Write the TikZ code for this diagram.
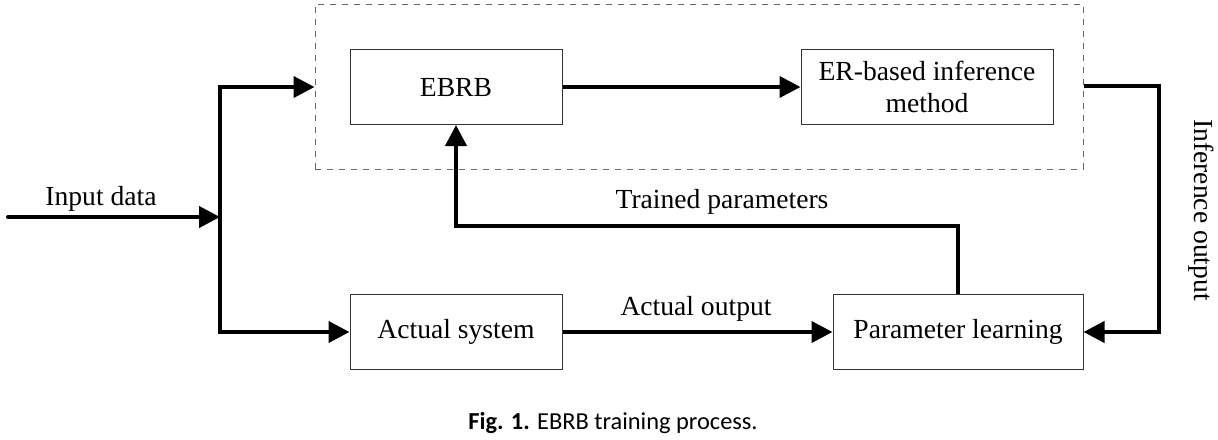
\documentclass[tikz,border=0pt]{standalone}
\usepackage{fontspec}
\setmainfont{Liberation Serif}
\newfontfamily\capfont{Carlito}
\usetikzlibrary{arrows.meta,positioning,calc}

\begin{document}
\begin{tikzpicture}[x=0.5pt,y=-0.5pt,>={Triangle[length=10.5pt,width=10.5pt]},
  blk/.style={draw=black!80,line width=0.5pt,minimum width=106pt,minimum height=37.5pt,align=center,font=\fontsize{13.8}{16}\selectfont},
  flow/.style={line width=2pt,->},
  lbl/.style={font=\fontsize{13.8}{16}\selectfont}]
\useasboundingbox (0,0) rectangle (1218,439);
\node[blk,text depth=0pt] (ebrb) at (456,87) {EBRB};
\node[blk,minimum width=126pt] (er) at (927,87) {ER-based inference\\method};
\node[blk] (act) at (456,332) {Actual system};
\node[blk,minimum width=125pt] (pl) at (958,332) {Parameter learning};
\node[draw=black!60,dashed,line width=0.5pt,minimum width=384pt,minimum height=82.5pt] (sys) at (699,86.5) {};
\coordinate (in) at (8,217);
\coordinate (split) at (220,217);
\coordinate (io) at (1159,86);
\coordinate (tp) at (700,226);
\draw[flow,line cap=round] (in) -- (split);
\draw[flow] (split) |- (sys.west |- ebrb);
\draw[flow] (split) |- (act);
\draw[flow] (ebrb) -- (er);
\draw[flow] (sys.east |- io) -- (io) |- (pl.east);
\draw[flow] (pl.north) -- (pl.north |- tp) -| (ebrb.south);
\draw[flow] (act) -- (pl);
\node[lbl] (indata) at (101,199) {Input data};
\node[lbl] (tplbl) at (722,202) {Trained parameters};
\node[lbl] (aolbl) at (696,309) {Actual output};
\node[lbl,rotate=-90] (iolbl) at (1201,210) {Inference output};
\node[font=\capfont\fontsize{12.2}{14}\selectfont] (cap) at (613,423) {\textbf{Fig. 1.} EBRB training process.};
\end{tikzpicture}
\end{document}
